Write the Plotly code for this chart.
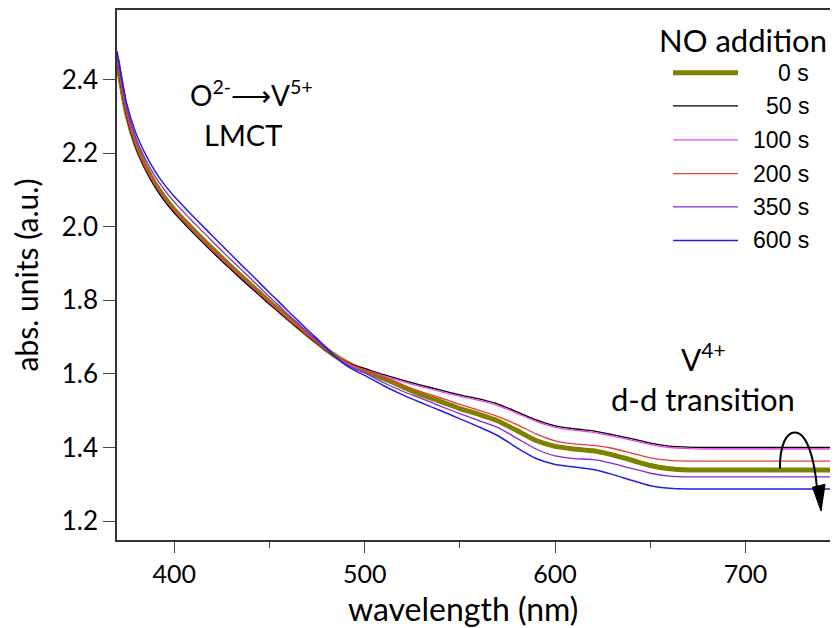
import plotly.graph_objects as go

# wavelength grid (nm)
wavelength = [370, 375, 380, 385, 390, 395, 400, 405, 410, 415, 420, 425, 430, 435, 440,
              445, 450, 455, 460, 465, 470, 475, 480, 485, 490, 495, 500,
              510, 520, 530, 540, 550, 560, 570, 580, 590, 600, 610, 620, 630, 640, 650,
              660, 670, 680, 690, 700, 710, 720, 730, 740, 750]

abs_0s = [2.456, 2.310, 2.223, 2.164, 2.117, 2.079, 2.047, 2.019, 1.992, 1.966, 1.941, 1.916,
          1.891, 1.867, 1.843, 1.820, 1.796, 1.774, 1.751, 1.729, 1.707, 1.687, 1.666, 1.648,
          1.632, 1.619, 1.609,
          1.588, 1.565, 1.543, 1.525, 1.506, 1.490, 1.472, 1.446, 1.419, 1.403, 1.396, 1.391,
          1.380, 1.366, 1.351, 1.342, 1.339, 1.339, 1.339, 1.339, 1.339, 1.339, 1.339, 1.339,
          1.339]
abs_50s = [2.450, 2.302, 2.214, 2.155, 2.108, 2.070, 2.038, 2.010, 1.983, 1.957, 1.932, 1.907,
           1.883, 1.859, 1.836, 1.813, 1.790, 1.768, 1.746, 1.725, 1.704, 1.684, 1.664, 1.646,
           1.633, 1.623, 1.615,
           1.598, 1.583, 1.569, 1.556, 1.543, 1.532, 1.518, 1.497, 1.475, 1.459, 1.451, 1.445,
           1.435, 1.424, 1.412, 1.404, 1.401, 1.400, 1.400, 1.400, 1.400, 1.400, 1.400, 1.400,
           1.400]
abs_100s = [2.455, 2.308, 2.220, 2.161, 2.114, 2.076, 2.044, 2.016, 1.989, 1.963, 1.937, 1.912,
            1.888, 1.864, 1.841, 1.817, 1.794, 1.772, 1.749, 1.728, 1.706, 1.686, 1.665, 1.648,
            1.630, 1.619, 1.611,
            1.594, 1.579, 1.565, 1.552, 1.539, 1.528, 1.514, 1.493, 1.471, 1.455, 1.447, 1.441,
            1.431, 1.420, 1.408, 1.400, 1.397, 1.396, 1.396, 1.396, 1.396, 1.396, 1.396, 1.396,
            1.396]
abs_200s = [2.454, 2.307, 2.220, 2.161, 2.114, 2.076, 2.044, 2.016, 1.989, 1.963, 1.938, 1.913,
            1.888, 1.864, 1.841, 1.818, 1.794, 1.772, 1.749, 1.728, 1.706, 1.686, 1.665, 1.648,
            1.633, 1.621, 1.611,
            1.592, 1.570, 1.551, 1.535, 1.517, 1.501, 1.484, 1.462, 1.437, 1.418, 1.410, 1.406,
            1.398, 1.385, 1.372, 1.365, 1.363, 1.363, 1.363, 1.363, 1.363, 1.363, 1.363, 1.363,
            1.363]
abs_350s = [2.468, 2.324, 2.240, 2.183, 2.137, 2.100, 2.068, 2.040, 2.013, 1.987, 1.961, 1.935,
            1.910, 1.885, 1.860, 1.835, 1.810, 1.786, 1.761, 1.738, 1.714, 1.691, 1.668, 1.646,
            1.627, 1.614, 1.603,
            1.576, 1.553, 1.533, 1.512, 1.492, 1.473, 1.454, 1.425, 1.396, 1.377, 1.370, 1.367,
            1.357, 1.343, 1.330, 1.322, 1.320, 1.320, 1.320, 1.320, 1.320, 1.320, 1.320, 1.320,
            1.320]
abs_600s = [2.478, 2.337, 2.254, 2.197, 2.151, 2.114, 2.083, 2.055, 2.028, 2.002, 1.976, 1.950,
            1.924, 1.898, 1.873, 1.847, 1.821, 1.796, 1.770, 1.745, 1.720, 1.696, 1.671, 1.645,
            1.624, 1.609, 1.596,
            1.568, 1.543, 1.521, 1.500, 1.478, 1.456, 1.432, 1.399, 1.370, 1.354, 1.347, 1.340,
            1.327, 1.311, 1.296, 1.289, 1.287, 1.287, 1.287, 1.287, 1.287, 1.287, 1.287, 1.287,
            1.287]

labels = ["0 s", "50 s", "100 s", "200 s", "350 s", "600 s"]
series = [abs_0s, abs_50s, abs_100s, abs_200s, abs_350s, abs_600s]
colors = ["#808000", "#000000", "#ee44ee", "#e83c3c", "#8a28d0", "#2020e0"]
widths = [5, 1.3, 1.3, 1.3, 1.3, 1.5]

FONT = "Lato, Open Sans, sans-serif"

fig = go.Figure()
for name, vals, col, w in zip(labels, series, colors, widths):
    fig.add_trace(go.Scatter(
        x=wavelength, y=vals, mode="lines", name=name,
        line=dict(color=col, width=w, shape="spline", smoothing=0.6),
        showlegend=False
    ))

# hand-made legend so labels can be right aligned
legend_y = [0.8816, 0.819, 0.7551, 0.6912, 0.6284, 0.5652]
shapes = []
annotations = []
for name, col, w, ly in zip(labels, colors, widths, legend_y):
    shapes.append(dict(type="line", xref="paper", yref="paper",
                       x0=0.7712, x1=0.8613, y0=ly, y1=ly,
                       line=dict(color=col, width=w)))
    annotations.append(dict(text=name, xref="paper", yref="paper", x=0.9626, y=ly,
                            xanchor="right", yanchor="middle", showarrow=False,
                            font=dict(family="Liberation Sans, Arial", size=23, color="black")))


def note(text, x, y, size):
    return dict(text=text, xref="paper", yref="paper", x=x, y=y,
                xanchor="center", yanchor="middle", showarrow=False,
                font=dict(family=FONT, size=size, color="black"))


annotations += [
    note("NO addition", 0.8682, 0.9436, 31),
    note("O<sup>2-</sup>⟶V<sup>5+</sup>", 0.1872, 0.8421, 28),
    note("LMCT", 0.1741, 0.765, 29),
    note("V<sup>4+</sup>", 0.8141, 0.3459, 30),
    note("d-d transition", 0.8128, 0.2669, 31),
    note("wavelength (nm)", 0.48, -0.13, 32),
]

# curved arrow near the d-d band
shapes.append(dict(type="path", xref="x", yref="y",
                   path="M 718.0,1.343 C 718.0,1.406 721.2,1.441 725.9,1.441 "
                        "C 731.7,1.441 735.9,1.379 737.5,1.289",
                   line=dict(color="black", width=2)))
shapes.append(dict(type="path", xref="x", yref="y",
                   path="M 735.1,1.292 L 741.7,1.300 L 739.6,1.227 Z",
                   fillcolor="black", line=dict(color="black", width=1)))

# page body adds an 8px offset, so the figure is sized to compensate
fig.update_layout(
    width=830, height=620,
    margin=dict(l=109, r=0, t=0, b=88),
    paper_bgcolor="white", plot_bgcolor="white",
    font=dict(family=FONT, color="black"),
    shapes=shapes, annotations=annotations,
)
fig.update_xaxes(
    range=[370, 748.5], tickvals=[400, 500, 600, 700],
    ticks="outside", ticklen=11, tickcolor="#444", tickwidth=1.2,
    minor=dict(tickvals=[450, 550, 650], ticks="outside", ticklen=6, tickcolor="#444"),
    showline=True, linecolor="#333", linewidth=1.5, mirror=True,
    showgrid=False, zeroline=False,
    tickfont=dict(size=25),
)
fig.update_yaxes(
    range=[1.1485, 2.5896], tickvals=[1.2, 1.4, 1.6, 1.8, 2.0, 2.2, 2.4],
    ticktext=["1.2", "1.4", "1.6", "1.8", "2.0", "2.2", "2.4"],
    ticks="outside", ticklen=12, tickcolor="#444", tickwidth=1.2,
    showline=True, linecolor="#333", linewidth=1.5,
    showgrid=False, zeroline=False,
    tickfont=dict(size=26),
    title=dict(text="abs. units (a.u.)", font=dict(size=30), standoff=22),
)

fig.write_html("out.html")
